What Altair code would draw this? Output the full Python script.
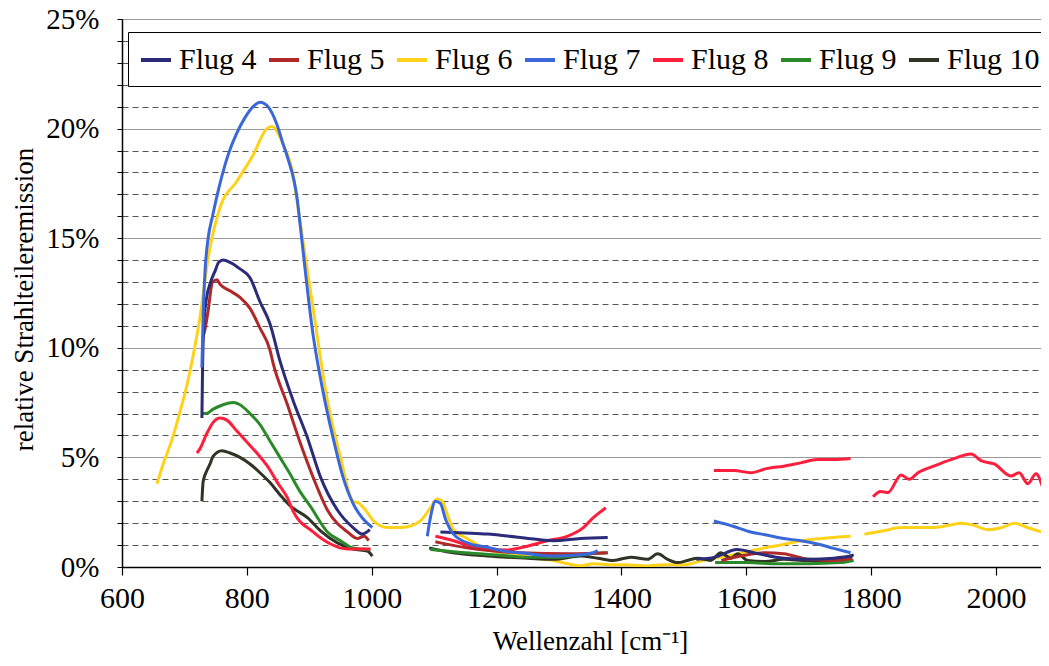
import altair as alt
import pandas as pd

names = ["Flug 4", "Flug 5", "Flug 6", "Flug 7", "Flug 8", "Flug 9", "Flug 10"]
colors = ["#2b2b7a", "#b02828", "#ffd21a", "#3a68d8", "#ff1f3d", "#2a8a2a", "#2f3424"]

# Flug 4
f4_s1_x = [728, 729, 731, 735, 742, 749, 755, 762, 773, 789, 805, 821, 837, 853, 874, 897, 918, 945, 970, 985, 997]
f4_s1_y = [6.8, 9.0, 11.0, 12.2, 13.0, 13.5, 13.9, 14.0, 13.9, 13.6, 13.2, 12.1, 11.1, 9.4, 7.6, 5.9, 4.1, 2.6, 1.8, 1.5, 1.7]
f4_s2_x = [1110, 1150, 1185, 1238, 1291, 1334, 1378]
f4_s2_y = [1.6, 1.55, 1.5, 1.35, 1.2, 1.3, 1.35]
f4_s3_x = [1520, 1550, 1585, 1620, 1660, 1700, 1740, 1770]
f4_s3_y = [0.35, 0.45, 0.8, 0.6, 0.4, 0.35, 0.4, 0.5]

# Flug 5
f5_s1_x = [730, 734, 738, 745, 752, 757, 773, 789, 805, 821, 837, 842, 865, 885, 906, 929, 961, 977, 988, 995]
f5_s1_y = [10.5, 11.0, 11.7, 13.0, 13.1, 12.9, 12.6, 12.3, 11.8, 10.9, 9.9, 9.3, 7.4, 5.7, 4.1, 2.6, 1.6, 1.3, 1.4, 1.2]
f5_s2_x = [1102, 1110, 1158, 1238, 1318, 1378]
f5_s2_y = [1.15, 1.1, 0.85, 0.65, 0.6, 0.65]
f5_s3_x = [1560, 1600, 1630, 1660, 1700, 1740, 1770]
f5_s3_y = [0.3, 0.55, 0.65, 0.6, 0.35, 0.3, 0.4]

# Flug 6
f6_s1_x = [656, 666, 680, 694, 704, 715, 725, 738, 757, 784, 810, 832, 840, 858, 874, 885, 906, 929, 950, 970,
           980, 990, 1003, 1025, 1046, 1065, 1078, 1094, 1105, 1113, 1121, 1131, 1153, 1185, 1227, 1259, 1291,
           1314, 1334, 1355, 1387, 1403, 1440, 1467, 1500, 1530, 1560, 1602, 1634, 1655, 1687, 1720, 1767]
f6_s1_y = [3.8, 4.7, 5.8, 7.2, 8.3, 9.8, 11.4, 14.1, 16.4, 17.6, 18.8, 20.0, 20.1, 19.3, 17.9, 15.8, 11.8, 7.6, 5.0, 3.0,
           2.9, 2.6, 2.1, 1.8, 1.8, 1.9, 2.1, 2.7, 3.1, 3.0, 2.4, 1.7, 1.3, 0.8, 0.6, 0.4, 0.3,
           0.15, 0.05, 0.15, 0.1, 0.1, 0.05, 0.1, 0.1, 0.3, 0.45, 0.7, 0.9, 1.0, 1.2, 1.3, 1.4]
f6_s2_x = [1789, 1820, 1848, 1875, 1900, 1925, 1944, 1965, 1987, 2010, 2029, 2050, 2072]
f6_s2_y = [1.5, 1.65, 1.8, 1.8, 1.8, 1.9, 2.0, 1.9, 1.7, 1.8, 2.0, 1.8, 1.6]

# Flug 7
f7_s1_x = [728, 730, 733, 738, 745, 757, 770, 784, 797, 810, 821, 834, 848, 858, 865, 881, 885, 906, 922, 938, 954, 970, 986, 1001]
f7_s1_y = [9.1, 11.5, 13.5, 15.0, 16.0, 17.5, 18.8, 19.8, 20.5, 21.0, 21.2, 21.0, 20.2, 19.3, 18.7, 16.7, 15.7, 10.6, 8.0, 5.9, 4.1, 2.9, 2.2, 1.8]
f7_s2_x = [1089, 1095, 1102, 1110, 1118, 1131, 1158, 1185, 1217, 1238, 1291, 1330, 1355, 1362]
f7_s2_y = [1.4, 2.4, 3.0, 2.9, 2.2, 1.5, 1.05, 0.9, 0.7, 0.65, 0.5, 0.55, 0.65, 0.75]
f7_s3_x = [1548, 1580, 1607, 1634, 1660, 1687, 1714, 1740, 1767]
f7_s3_y = [2.1, 1.85, 1.6, 1.45, 1.3, 1.2, 1.05, 0.85, 0.65]

# Flug 8
f8_s1_x = [720, 725, 736, 746, 757, 768, 784, 800, 816, 833, 849, 865, 874, 906, 934, 961, 998]
f8_s1_y = [5.2, 5.4, 6.1, 6.6, 6.8, 6.7, 6.2, 5.7, 5.2, 4.6, 3.85, 3.15, 2.55, 1.6, 1.05, 0.82, 0.82]
f8_s2_x = [1102, 1131, 1158, 1185, 1217, 1249, 1281, 1313, 1339, 1355, 1375]
f8_s2_y = [1.4, 1.2, 0.95, 0.8, 0.78, 0.95, 1.2, 1.4, 1.8, 2.25, 2.7]
f8_s3_x = [1548, 1580, 1607, 1634, 1660, 1687, 1714, 1740, 1767]
f8_s3_y = [4.4, 4.4, 4.3, 4.5, 4.6, 4.75, 4.9, 4.9, 4.95]
f8_s4_x = [1803, 1815, 1827, 1848, 1861, 1875, 1900, 1928, 1960, 1976, 1997, 2024, 2037, 2051, 2064, 2075]
f8_s4_y = [3.2, 3.45, 3.4, 4.2, 4.0, 4.3, 4.6, 4.9, 5.15, 4.85, 4.7, 4.15, 4.3, 3.8, 4.25, 3.6]

# Flug 9
f9_s1_x = [728, 735, 746, 762, 778, 789, 805, 821, 837, 853, 869, 885, 901, 929, 950, 970, 998]
f9_s1_y = [7.0, 7.0, 7.2, 7.4, 7.5, 7.4, 7.0, 6.5, 5.75, 5.0, 4.25, 3.45, 2.8, 1.6, 1.2, 0.87, 0.8]
f9_s2_x = [1094, 1150, 1200, 1250, 1300, 1350, 1378]
f9_s2_y = [0.8, 0.65, 0.55, 0.45, 0.45, 0.6, 0.65]
f9_s3_x = [1550, 1600, 1650, 1700, 1750, 1772]
f9_s3_y = [0.2, 0.2, 0.15, 0.15, 0.2, 0.3]

# Flug 10
f10_s1_x = [728, 730, 736, 741, 746, 760, 773, 789, 805, 821, 837, 853, 869, 897, 918, 945, 970, 993, 1001]
f10_s1_y = [3.0, 3.9, 4.4, 4.7, 5.05, 5.3, 5.2, 5.0, 4.7, 4.3, 3.85, 3.3, 2.8, 2.25, 1.65, 1.1, 0.82, 0.73, 0.5]
f10_s2_x = [1092, 1120, 1185, 1250, 1291, 1334, 1362, 1387, 1415, 1442, 1458, 1474, 1490, 1506, 1522, 1543,
            1559, 1575, 1586, 1602, 1630, 1660, 1690, 1714, 1746, 1772]
f10_s2_y = [0.87, 0.7, 0.5, 0.4, 0.35, 0.5, 0.4, 0.3, 0.45, 0.35, 0.6, 0.35, 0.2, 0.3, 0.4, 0.3,
            0.65, 0.4, 0.6, 0.3, 0.25, 0.35, 0.3, 0.28, 0.35, 0.55]

segments = [
    ("Flug 6", 1, f6_s1_x, f6_s1_y), ("Flug 6", 2, f6_s2_x, f6_s2_y),
    ("Flug 10", 1, f10_s1_x, f10_s1_y), ("Flug 10", 2, f10_s2_x, f10_s2_y),
    ("Flug 9", 1, f9_s1_x, f9_s1_y), ("Flug 9", 2, f9_s2_x, f9_s2_y), ("Flug 9", 3, f9_s3_x, f9_s3_y),
    ("Flug 8", 1, f8_s1_x, f8_s1_y), ("Flug 8", 2, f8_s2_x, f8_s2_y), ("Flug 8", 3, f8_s3_x, f8_s3_y),
    ("Flug 8", 4, f8_s4_x, f8_s4_y),
    ("Flug 5", 1, f5_s1_x, f5_s1_y), ("Flug 5", 2, f5_s2_x, f5_s2_y), ("Flug 5", 3, f5_s3_x, f5_s3_y),
    ("Flug 4", 1, f4_s1_x, f4_s1_y), ("Flug 4", 2, f4_s2_x, f4_s2_y), ("Flug 4", 3, f4_s3_x, f4_s3_y),
    ("Flug 7", 1, f7_s1_x, f7_s1_y), ("Flug 7", 2, f7_s2_x, f7_s2_y), ("Flug 7", 3, f7_s3_x, f7_s3_y),
]

rows = []
for name, seg, xs, ys in segments:
    for xv, yv in zip(xs, ys):
        rows.append({"wn": xv, "val": yv, "flug": name, "key": f"{name}-{seg}"})
df = pd.DataFrame(rows)

serif = "Liberation Serif, Times New Roman, Times, serif"

x_ticks = [600, 800, 1000, 1200, 1400, 1600, 1800, 2000]
y_ticks = list(range(0, 26))

chart = alt.Chart(df).mark_line(strokeWidth=3, interpolate="monotone", clip=True).encode(
    x=alt.X("wn:Q",
            scale=alt.Scale(domain=[600, 2072], nice=False, zero=False),
            axis=alt.Axis(values=x_ticks, format="d", title="Wellenzahl [cm⁻¹]", grid=False,
                          labelFont=serif, labelFontSize=30, labelColor="black",
                          labelPadding=8, labelFlush=False, labelOverlap=False,
                          tickSize=8, tickColor="black", tickWidth=1.2,
                          domainColor="black", domainWidth=1.5,
                          titleFont=serif, titleFontSize=27, titleFontWeight="normal",
                          titleColor="black", titleX=468, titleY=74, titleBaseline="middle")),
    y=alt.Y("val:Q",
            scale=alt.Scale(domain=[0, 25], nice=False),
            axis=alt.Axis(values=y_ticks, title="relative Strahlteileremission",
                          labelExpr="datum.value % 5 === 0 ? datum.value + '%' : ''",
                          labelFont=serif, labelFontSize=29, labelColor="black",
                          labelPadding=18, labelOverlap=False,
                          tickSize=5, tickColor="black", tickWidth=1,
                          domainColor="black", domainWidth=1.5,
                          grid=True, gridWidth=1,
                          gridDash={"condition": {"test": "datum.value % 5 === 0", "value": []}, "value": [6, 4]},
                          gridColor={"condition": {"test": "datum.value % 5 === 0", "value": "#9a9a9a"}, "value": "#555555"},
                          titleFont=serif, titleFontSize=27, titleFontWeight="normal",
                          titleColor="black", titleX=-98, titleY=280, titleBaseline="middle")),
    color=alt.Color("flug:N",
                    scale=alt.Scale(domain=names, range=colors),
                    legend=alt.Legend(title=None, orient="none", legendX=6, legendY=13,
                                      direction="horizontal", columns=7,
                                      symbolType="stroke", symbolSize=900, symbolStrokeWidth=4,
                                      labelFont=serif, labelFontSize=30, labelColor="black",
                                      labelOffset=6, columnPadding=4, padding=11,
                                      strokeColor="black", fillColor="white")),
    detail="key:N",
    order=alt.Order("wn:Q"),
).properties(
    width=919, height=548,
    autosize=alt.AutoSizeParams(type="none"),
    padding={"left": 114, "top": 11, "right": 0, "bottom": 91},
).configure_view(strokeWidth=0).configure(background="white")

chart.save("out.html", embed_options={"renderer": "svg", "actions": False})
